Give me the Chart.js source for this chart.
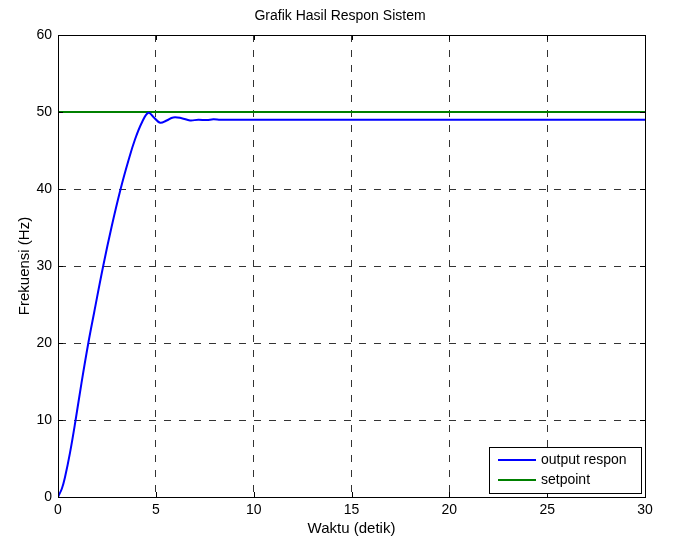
<!DOCTYPE html>
<html>
<head>
<meta charset="utf-8">
<script src="https://cdn.jsdelivr.net/npm/chart.js@4"></script>
<style>
  html, body { margin: 0; padding: 0; background: #fff; }
  #wrap { width: 675px; height: 538px; }
</style>
</head>
<body>
<div id="wrap"><canvas id="chart" width="675" height="538"></canvas></div>
<script>
// waktu (detik) dan frekuensi (Hz)
const waktu = [0, 0.2, 0.36, 0.61, 0.9, 1.2, 1.55, 1.85, 2.31, 2.74, 3.2, 3.6, 3.93, 4.3, 4.62, 4.9, 5.22, 5.55, 5.89, 6.32, 6.75, 7.17, 7.6, 7.94, 8.3, 10, 15, 20, 25, 30];
const output = [0, 1.1, 2.6, 5.7, 10, 14.8, 20, 24, 30, 35.1, 40, 43.7, 46.4, 48.7, 49.9, 49.3, 48.6, 48.9, 49.3, 49.2, 48.9, 49.0, 48.95, 49.05, 49.0, 49.0, 49.0, 49.0, 49.0, 49.0];
const spWaktu = [0, 30];
const setpoint = [50, 50];
const xTicks = [0, 5, 10, 15, 20, 25, 30];
const yTicks = [0, 10, 20, 30, 40, 50, 60];
const judul = "Grafik Hasil Respon Sistem";

const font = "'Liberation Sans', Arial, sans-serif";

// judul, kotak sumbu, tick ke dalam, legenda ala matlab
const frame = {
  id: "frame",
  afterDraw(chart) {
    const ctx = chart.ctx;
    const a = chart.chartArea;
    const sx = chart.scales.x, sy = chart.scales.y;
    ctx.save();
    ctx.fillStyle = "#000";
    ctx.font = "14px " + font;
    ctx.textAlign = "center";
    ctx.textBaseline = "middle";
    ctx.fillText(judul, 340, 16);

    ctx.strokeStyle = "#000";
    ctx.lineWidth = 1;
    ctx.setLineDash([]);
    ctx.strokeRect(a.left + 0.5, a.top + 0.5, a.right - a.left, a.bottom - a.top);
    ctx.beginPath();
    xTicks.forEach((v) => {
      const x = Math.round(sx.getPixelForValue(v)) + 0.5;
      ctx.moveTo(x, a.bottom); ctx.lineTo(x, a.bottom - 5);
      ctx.moveTo(x, a.top); ctx.lineTo(x, a.top + 5);
    });
    yTicks.forEach((v) => {
      const y = Math.round(sy.getPixelForValue(v)) + 0.5;
      ctx.moveTo(a.left, y); ctx.lineTo(a.left + 5, y);
      ctx.moveTo(a.right, y); ctx.lineTo(a.right - 5, y);
    });
    ctx.stroke();

    // legenda
    const lx = 489, ly = 447, lw = 152, lh = 46;
    ctx.fillStyle = "#fff";
    ctx.fillRect(lx, ly, lw, lh);
    ctx.strokeRect(lx + 0.5, ly + 0.5, lw, lh);
    ctx.textAlign = "left";
    chart.data.datasets.forEach((d, i) => {
      const y = ly + 13 + i * 20;
      ctx.strokeStyle = d.borderColor;
      ctx.lineWidth = 2;
      ctx.beginPath();
      ctx.moveTo(lx + 9, y);
      ctx.lineTo(lx + 47, y);
      ctx.stroke();
      ctx.fillStyle = "#000";
      ctx.fillText(d.label, lx + 52, y);
    });
    ctx.restore();
  },
};

new Chart(document.getElementById("chart"), {
  type: "line",
  data: {
    datasets: [
      {
        label: "output respon",
        data: waktu.map((t, i) => ({ x: t, y: output[i] })),
        borderColor: "#0000ff",
        borderWidth: 2,
        pointRadius: 0,
        tension: 0.4,
      },
      {
        label: "setpoint",
        data: spWaktu.map((t, i) => ({ x: t, y: setpoint[i] })),
        borderColor: "#008000",
        borderWidth: 2,
        pointRadius: 0,
      },
    ],
  },
  plugins: [frame],
  options: {
    responsive: false,
    animation: false,
    layout: { padding: { left: 0, right: 30, top: 35, bottom: 0 } },
    plugins: {
      legend: { display: false },
      tooltip: { enabled: false },
      title: { display: false },
    },
    scales: {
      x: {
        type: "linear",
        min: 0,
        max: 30,
        afterBuildTicks: (s) => { s.ticks = xTicks.map((v) => ({ value: v })); },
        afterFit: (s) => { s.height = 41; },
        ticks: { color: "#000", font: { family: font, size: 14 }, padding: 5, maxRotation: 0 },
        grid: { color: "#333", drawTicks: false, lineWidth: 1 },
        border: { display: true, color: "#000", dash: [7, 8] },
        title: {
          display: true,
          text: "Waktu (detik)",
          color: "#000",
          font: { family: font, size: 15 },
          padding: { top: 0, bottom: 0 },
        },
      },
      y: {
        min: 0,
        max: 60,
        afterBuildTicks: (s) => { s.ticks = yTicks.map((v) => ({ value: v })); },
        afterFit: (s) => { s.width = 58; },
        ticks: { color: "#000", font: { family: font, size: 14 }, padding: 6 },
        grid: { color: "#333", drawTicks: false, lineWidth: 1 },
        border: { display: true, color: "#000", dash: [7, 8] },
        title: {
          display: true,
          text: "Frekuensi (Hz)",
          color: "#000",
          font: { family: font, size: 15 },
          padding: { top: 16, bottom: 0 },
        },
      },
    },
  },
});
</script>
</body>
</html>
